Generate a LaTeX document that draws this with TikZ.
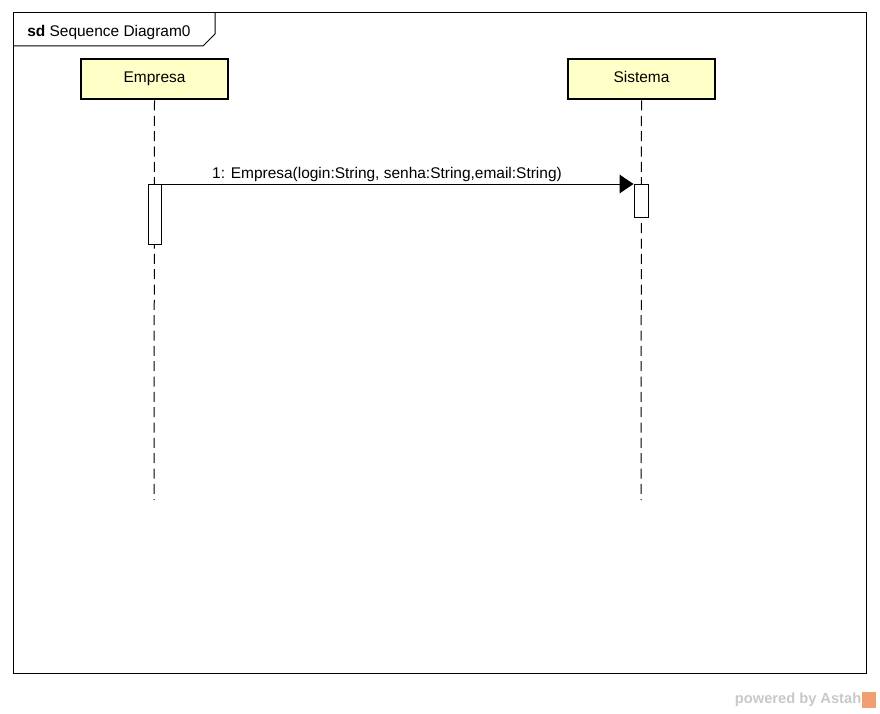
\documentclass[tikz,border=0pt]{standalone}
\usepackage{fontspec}
\setmainfont{Liberation Sans}
\usetikzlibrary{arrows.meta}
\definecolor{headfill}{HTML}{FFFFC8}
\definecolor{logogray}{HTML}{C8C8C8}
\definecolor{logoorange}{HTML}{F0A070}
\begin{document}
\begin{tikzpicture}[x=0.75pt,y=-0.75pt,
  every node/.style={font=\fontsize{11.6}{14}\selectfont, inner sep=0pt},
  head/.style={draw, line width=1.5pt, fill=headfill, minimum width=110.25pt, minimum height=30pt, text height=0.72em, text depth=0.21em},
  lifeline/.style={draw, line width=0.75pt, dash pattern=on 7.5pt off 4pt},
  actbox/.style={draw, line width=0.75pt, fill=white},
  msg/.style={draw, line width=0.75pt, -{Triangle[length=10.5pt,width=14pt]}}]
\useasboundingbox (0,0) rectangle (880,713);
% frame
\draw[line width=0.75pt] (13,13) rectangle (866,673);
\draw[line width=0.75pt] (13,46) -- (203,46) -- (215,34) -- (215,13);
\node[anchor=base west] (title) at (27,36.5) {\textbf{sd} Sequence Diagram0};
% heads
\node[head] (emp) at (154.5,79.5) {Empresa};
\node[head] (sis) at (641.5,79.5) {Sistema};
% lifelines
\coordinate (empend) at (154,500);
\coordinate (sisend) at (641,500);
\draw[lifeline] (emp.south) -- (empend);
\draw[lifeline] (sis.south) -- (sisend);
% activations
\node[actbox, minimum width=9.75pt, minimum height=45pt, anchor=north] (empact) at (154.5,184) {};
\node[actbox, minimum width=10.5pt, minimum height=24.75pt, anchor=north] (sisact) at (641,184) {};
% message
\draw[msg] (empact.north east) -- (sisact.north west);
\node[anchor=base] (lbl) at (387,178) {1: Empresa(login:String, senha:String,email:String)};
% watermark
\node[anchor=east, text=logogray, font=\fontsize{11}{13}\selectfont\bfseries] (pw) at (861.5,700) {powered by Astah};
\node[fill=logoorange, minimum width=10.5pt, minimum height=12pt, anchor=west] (logo) at (862,700) {};
\end{tikzpicture}
\end{document}
